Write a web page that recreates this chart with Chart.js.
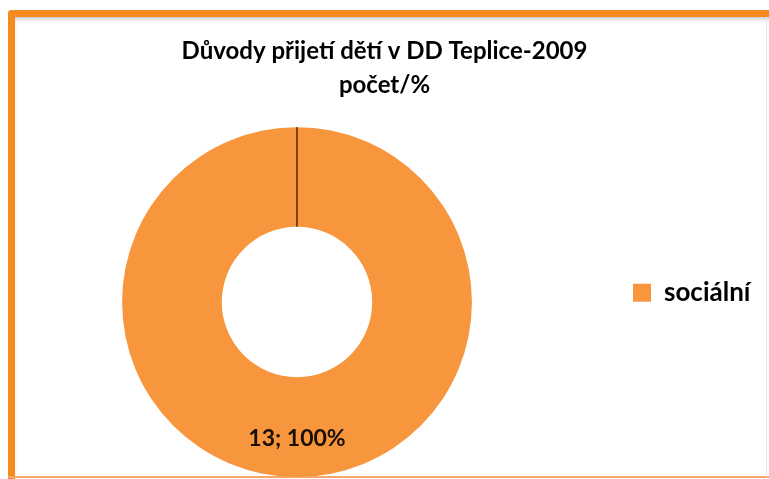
<!DOCTYPE html>
<html>
<head>
<meta charset="utf-8">
<script src="https://cdn.jsdelivr.net/npm/chart.js@4.4.1/dist/chart.umd.min.js"></script>
<style>
  html, body { margin: 0; padding: 0; background: #fff; }
  #wrap { position: relative; width: 769px; height: 479px; overflow: hidden; }
  #frame {
    position: absolute; left: 8px; top: 10px; width: 770px; height: 480px;
    border-top: 7px solid #F58A1E; border-left: 7px solid #F58A1E;
    border-radius: 4px 0 0 0;
    box-shadow: inset 0 4px 4px -2px rgba(120,120,120,0.45);
  }
  #bottomLine { position: absolute; left: 8px; top: 476px; width: 761px; height: 2px; background: #F5A868; }
  #rightLine { position: absolute; left: 766px; top: 17px; width: 1px; height: 460px; background: #e4e4ee; }
  #chart { position: absolute; left: 0; top: 0; }
</style>
</head>
<body>
<div id="wrap">
  <div id="frame"></div>
  <div id="bottomLine"></div>
  <div id="rightLine"></div>
  <canvas id="chart" width="769" height="479"></canvas>
</div>
<script>
// data
const categories = ['sociální'];
const counts = [13];
const percents = ['100%'];
const titleLines = ['Důvody přijetí dětí v DD Teplice-2009', 'počet/%'];

const sliceColor = '#F7963C';
const LEGEND_WIDTH = 175;

Chart.defaults.font.family = 'Lato, "Open Sans", sans-serif';
Chart.defaults.color = '#000';

// legend takes a fixed width so the ring stays left
const legendWidthPlugin = {
    id: 'legendWidth',
    beforeUpdate(chart) {
        const legend = chart.legend;
        if (legend && !legend._fixedWidth) {
            const fit = legend.fit.bind(legend);
            legend.fit = function () {
                fit();
                this.width = LEGEND_WIDTH;
            };
            legend._fixedWidth = true;
        }
    }
};

// dark line at the start of the slice + value label
const sliceDecor = {
    id: 'sliceDecor',
    afterDatasetsDraw(chart) {
        const ctx = chart.ctx;
        const meta = chart.getDatasetMeta(0);
        meta.data.forEach((arc, i) => {
            const p = arc.getProps(['x', 'y', 'startAngle', 'endAngle', 'innerRadius', 'outerRadius']);
            ctx.save();
            ctx.strokeStyle = '#7A4512';
            ctx.lineWidth = 2;
            ctx.beginPath();
            ctx.moveTo(p.x + Math.cos(p.startAngle) * p.innerRadius, p.y + Math.sin(p.startAngle) * p.innerRadius);
            ctx.lineTo(p.x + Math.cos(p.startAngle) * p.outerRadius, p.y + Math.sin(p.startAngle) * p.outerRadius);
            ctx.stroke();

            const mid = (p.startAngle + p.endAngle) / 2;
            const r = p.innerRadius + (p.outerRadius - p.innerRadius) * 0.61;
            ctx.fillStyle = '#1a0f05';
            ctx.font = 'bold 23px Lato, "Open Sans", sans-serif';
            ctx.textAlign = 'center';
            ctx.textBaseline = 'middle';
            ctx.fillText(counts[i] + '; ' + percents[i], p.x + Math.cos(mid) * r, p.y + Math.sin(mid) * r);
            ctx.restore();
        });
    }
};

new Chart(document.getElementById('chart'), {
    type: 'doughnut',
    data: {
        labels: categories,
        datasets: [{
            data: counts,
            backgroundColor: sliceColor,
            borderWidth: 0,
            hoverOffset: 0
        }]
    },
    options: {
        responsive: false,
        animation: false,
        cutout: '43%',
        layout: { padding: { top: 34, bottom: 2, left: 0, right: 0 } },
        plugins: {
            title: {
                display: true,
                text: titleLines,
                font: { size: 24, weight: 'bold', lineHeight: 1.42 },
                padding: { top: 0, bottom: 25 }
            },
            legend: {
                position: 'right',
                title: { display: true, text: '', font: { size: 12 }, padding: { top: 30, bottom: 30 } },
                labels: {
                    boxWidth: 18,
                    boxHeight: 18,
                    padding: 39,
                    font: { size: 26, weight: 'bold' }
                }
            },
            tooltip: { enabled: false }
        }
    },
    plugins: [legendWidthPlugin, sliceDecor]
});
</script>
</body>
</html>
